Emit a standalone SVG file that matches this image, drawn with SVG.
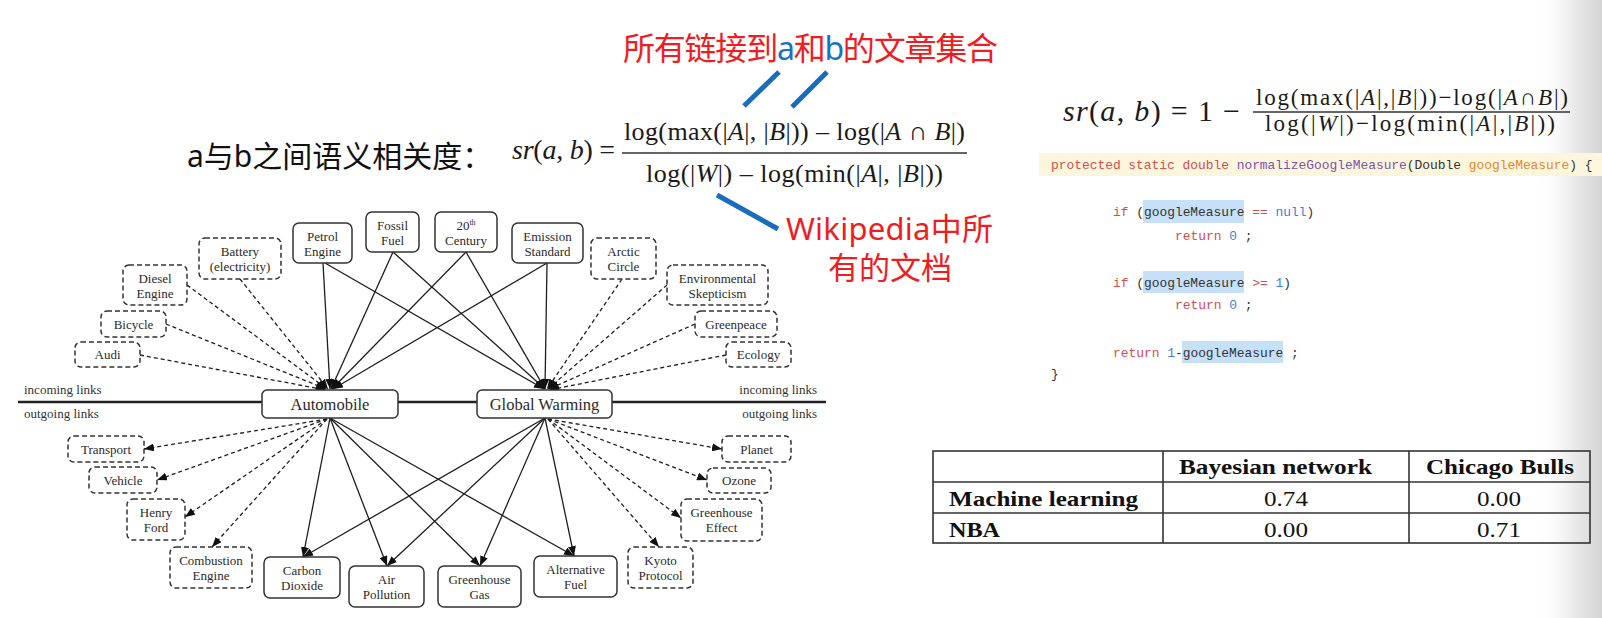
<svg xmlns="http://www.w3.org/2000/svg" width="1602" height="618" viewBox="0 0 1602 618">
  <style>
    .node rect { fill: #fff; stroke: #333; stroke-width: 1.5; }
    .node.dash rect { stroke-dasharray: 5 3; }
    .node text { font-family: "Liberation Serif", serif; font-size: 13px; fill: #2a2a2a; text-anchor: middle; }
    .node.hub text { font-size: 16.5px; }
    .edges line { stroke: #1e1e1e; stroke-width: 1.3; marker-end: url(#ah); }
    .edges line.d { stroke-dasharray: 4 3; }
    .side { font-family: "Liberation Serif", serif; font-size: 13px; fill: #333; }
    .math { font-family: "Liberation Serif", serif; fill: #1a1a1a; }
    .cjk { font-family: "Noto Sans", "Noto Sans CJK SC", sans-serif; }
    .red { fill: #ee1d23; }
    .blue { fill: #1a72c0; }
    .callout { stroke: #1a6dbd; stroke-width: 5; stroke-linecap: butt; }
    .code { font-family: "Liberation Mono", monospace; font-size: 12.9px; fill: #333; }
    .kw { fill: #d64c4f; }
    .fn { fill: #8250b0; }
    .pa { fill: #e3892e; }
    .nu { fill: #3c7fd6; }
    .hl { fill: #c6e0fa; }
    .tbl { fill: none; stroke: #333; stroke-width: 1.6; }
    .th { font-family: "Liberation Serif", serif; font-size: 22px; font-weight: bold; fill: #111; }
    .td { font-family: "Liberation Serif", serif; font-size: 22px; fill: #111; text-anchor: start; }
  </style>
  <defs>
    <marker id="ah" markerUnits="userSpaceOnUse" markerWidth="10" markerHeight="8" refX="10" refY="4" orient="auto">
      <path d="M0,0 L10,4 L0,8 z" fill="#111"/>
    </marker>
    <linearGradient id="edge" x1="0" y1="0" x2="1" y2="0">
      <stop offset="0" stop-color="#ffffff" stop-opacity="0"/>
      <stop offset="0.55" stop-color="#ececec"/>
      <stop offset="1" stop-color="#d4d4d4"/>
    </linearGradient>
  </defs>

  <rect width="1602" height="618" fill="#fff"/>
  <rect x="1535" y="0" width="67" height="618" fill="url(#edge)"/>

  <!-- heading and formula on the left -->
  <text class="cjk" x="187" y="167" font-size="30" fill="#111">a与b之间语义相关度：</text>
  <text class="cjk" x="623" y="60" font-size="32" textLength="375"><tspan class="red">所有链接到</tspan><tspan class="blue">a</tspan><tspan class="red">和</tspan><tspan class="blue">b</tspan><tspan class="red">的文章集合</tspan></text>
  <line class="callout" x1="779" y1="72" x2="744" y2="106"/>
  <line class="callout" x1="827" y1="72" x2="792" y2="107"/>
  <line class="callout" x1="717" y1="195" x2="778" y2="229"/>
  <text class="cjk red" font-size="31"><tspan x="786" y="240" textLength="207">Wikipedia中所</tspan><tspan x="828" y="279" textLength="124">有的文档</tspan></text>

  <text class="math" x="512" y="159" font-size="28" textLength="103"><tspan font-style="italic">sr</tspan>(<tspan font-style="italic">a</tspan>, <tspan font-style="italic">b</tspan>) =</text>
  <text class="math" x="624" y="140" font-size="26" textLength="341">log(max(|<tspan font-style="italic">A</tspan>|, |<tspan font-style="italic">B</tspan>|)) – log(|<tspan font-style="italic">A</tspan> ∩ <tspan font-style="italic">B</tspan>|)</text>
  <line x1="622" y1="153" x2="967" y2="153" stroke="#333" stroke-width="1.6"/>
  <text class="math" x="646" y="182" font-size="26" textLength="297">log(|<tspan font-style="italic">W</tspan>|) – log(min(|<tspan font-style="italic">A</tspan>|, |<tspan font-style="italic">B</tspan>|))</text>

  <!-- formula on the right -->
  <text class="math" x="1063" y="121" font-size="30" textLength="177"><tspan font-style="italic">sr</tspan>(<tspan font-style="italic">a</tspan>, <tspan font-style="italic">b</tspan>) = 1 −</text>
  <text class="math" x="1256" y="105" font-size="23" textLength="312">log(max(|<tspan font-style="italic">A</tspan>|,|<tspan font-style="italic">B</tspan>|))−log(|<tspan font-style="italic">A</tspan>∩<tspan font-style="italic">B</tspan>|)</text>
  <line x1="1253" y1="112" x2="1570" y2="112" stroke="#333" stroke-width="1.4"/>
  <text class="math" x="1265" y="131" font-size="23" textLength="290">log(|<tspan font-style="italic">W</tspan>|)−log(min(|<tspan font-style="italic">A</tspan>|,|<tspan font-style="italic">B</tspan>|))</text>

  <!-- code listing -->
  <rect x="1039" y="153" width="563" height="23" fill="#fcf6dc"/>
  <rect class="hl" x="1143" y="200" width="101" height="23"/>
  <rect class="hl" x="1143" y="271" width="101" height="22"/>
  <rect class="hl" x="1182" y="341" width="101" height="22"/>
  <text class="code" xml:space="preserve" x="1051" y="169"><tspan class="kw">protected static double </tspan><tspan class="fn">normalizeGoogleMeasure</tspan>(Double <tspan class="pa">googleMeasure</tspan>) {</text>
  <text class="code" xml:space="preserve" x="1113" y="216"><tspan class="kw">if</tspan> (googleMeasure <tspan class="kw">==</tspan> <tspan class="nu">null</tspan>)</text>
  <text class="code" xml:space="preserve" x="1175" y="240"><tspan class="kw">return</tspan> <tspan class="nu">0</tspan> ;</text>
  <text class="code" xml:space="preserve" x="1113" y="287"><tspan class="kw">if</tspan> (googleMeasure <tspan class="kw">&gt;=</tspan> <tspan class="nu">1</tspan>)</text>
  <text class="code" xml:space="preserve" x="1175" y="309"><tspan class="kw">return</tspan> <tspan class="nu">0</tspan> ;</text>
  <text class="code" xml:space="preserve" x="1113" y="357"><tspan class="kw">return</tspan> <tspan class="nu">1</tspan>-googleMeasure ;</text>
  <text class="code" x="1051" y="378">}</text>

  <!-- similarity table -->
  <g id="table">
    <rect class="tbl" x="933" y="451" width="657" height="92"/>
    <line class="tbl" x1="933" y1="482" x2="1590" y2="482"/>
    <line class="tbl" x1="933" y1="513" x2="1590" y2="513"/>
    <line class="tbl" x1="1163" y1="451" x2="1163" y2="543"/>
    <line class="tbl" x1="1409" y1="451" x2="1409" y2="543"/>
    <text class="th" x="1179" y="474" textLength="193" lengthAdjust="spacingAndGlyphs">Bayesian network</text>
    <text class="th" x="1426" y="474" textLength="148" lengthAdjust="spacingAndGlyphs">Chicago Bulls</text>
    <text class="th" x="949" y="506" textLength="189" lengthAdjust="spacingAndGlyphs">Machine learning</text>
    <text class="th" x="949" y="537" textLength="51" lengthAdjust="spacingAndGlyphs">NBA</text>
    <text class="td" x="1264" y="506" textLength="44" lengthAdjust="spacingAndGlyphs">0.74</text>
    <text class="td" x="1477" y="506" textLength="44" lengthAdjust="spacingAndGlyphs">0.00</text>
    <text class="td" x="1264" y="537" textLength="44" lengthAdjust="spacingAndGlyphs">0.00</text>
    <text class="td" x="1477" y="537" textLength="44" lengthAdjust="spacingAndGlyphs">0.71</text>
  </g>

  <!-- link graph: divider between incoming and outgoing links -->
  <line x1="18" y1="402" x2="826" y2="402" stroke="#222" stroke-width="2.6"/>
  <text class="side" x="24" y="394">incoming links</text>
  <text class="side" x="24" y="418">outgoing links</text>
  <text class="side" x="817" y="394" text-anchor="end">incoming links</text>
  <text class="side" x="817" y="418" text-anchor="end">outgoing links</text>

  <g id="connectors" class="edges">
    <!-- shared incoming links -->
    <line x1="323" y1="263" x2="330" y2="389"/>
    <line x1="325" y1="263" x2="544" y2="389"/>
    <line x1="393" y1="252" x2="331" y2="389"/>
    <line x1="393" y1="252" x2="545" y2="389"/>
    <line x1="466" y1="252" x2="332" y2="389"/>
    <line x1="466" y1="252" x2="545" y2="389"/>
    <line x1="547" y1="263" x2="333" y2="389"/>
    <line x1="547" y1="263" x2="545" y2="389"/>
    <!-- incoming links of one article only -->
    <line class="d" x1="240" y1="279" x2="328" y2="389"/>
    <line class="d" x1="187" y1="285" x2="327" y2="389"/>
    <line class="d" x1="166" y1="324" x2="326" y2="389"/>
    <line class="d" x1="140" y1="355" x2="326" y2="390"/>
    <line class="d" x1="622" y1="279" x2="547" y2="389"/>
    <line class="d" x1="667" y1="285" x2="548" y2="389"/>
    <line class="d" x1="695" y1="324" x2="549" y2="389"/>
    <line class="d" x1="726" y1="355" x2="549" y2="390"/>
    <!-- shared outgoing links -->
    <line x1="330" y1="418" x2="303" y2="557"/>
    <line x1="330" y1="418" x2="387" y2="566"/>
    <line x1="330" y1="418" x2="480" y2="566"/>
    <line x1="330" y1="418" x2="574" y2="556"/>
    <line x1="545" y1="418" x2="303" y2="557"/>
    <line x1="545" y1="418" x2="387" y2="566"/>
    <line x1="545" y1="418" x2="480" y2="566"/>
    <line x1="545" y1="418" x2="574" y2="556"/>
    <!-- outgoing links of one article only -->
    <line class="d" x1="327" y1="419" x2="144" y2="449"/>
    <line class="d" x1="327" y1="419" x2="157" y2="480"/>
    <line class="d" x1="327" y1="419" x2="185" y2="517"/>
    <line class="d" x1="327" y1="419" x2="212" y2="547"/>
    <line class="d" x1="548" y1="419" x2="722" y2="449"/>
    <line class="d" x1="548" y1="419" x2="707" y2="480"/>
    <line class="d" x1="548" y1="419" x2="681" y2="518"/>
    <line class="d" x1="548" y1="419" x2="659" y2="547"/>
  </g>

  <!-- incoming nodes -->
  <g id="petrol-engine" class="node"><rect x="293" y="223" width="59" height="40" rx="6"/><text x="322.5" y="240.5">Petrol</text><text x="322.5" y="256">Engine</text></g>
  <g id="fossil-fuel" class="node"><rect x="366" y="212" width="53" height="40" rx="6"/><text x="392.5" y="229.5">Fossil</text><text x="392.5" y="245">Fuel</text></g>
  <g id="century" class="node"><rect x="435" y="212" width="62" height="40" rx="6"/><text x="466" y="229.5">20<tspan font-size="8" dy="-5">th</tspan></text><text x="466" y="245">Century</text></g>
  <g id="emission-standard" class="node"><rect x="512" y="223" width="71" height="40" rx="6"/><text x="547.5" y="240.5">Emission</text><text x="547.5" y="256">Standard</text></g>
  <g id="battery" class="node dash"><rect x="199" y="238" width="82" height="41" rx="6"/><text x="240" y="255.5">Battery</text><text x="240" y="271">(electricity)</text></g>
  <g id="diesel-engine" class="node dash"><rect x="123" y="265" width="64" height="40" rx="6"/><text x="155" y="282.5">Diesel</text><text x="155" y="298">Engine</text></g>
  <g id="bicycle" class="node dash"><rect x="101" y="311" width="65" height="26" rx="6"/><text x="133.5" y="328.5">Bicycle</text></g>
  <g id="audi" class="node dash"><rect x="75" y="342" width="65" height="25" rx="6"/><text x="107.5" y="359">Audi</text></g>
  <g id="arctic-circle" class="node dash"><rect x="591" y="238" width="65" height="41" rx="6"/><text x="623.5" y="255.5">Arctic</text><text x="623.5" y="271">Circle</text></g>
  <g id="environmental-skepticism" class="node dash"><rect x="667" y="265" width="101" height="40" rx="6"/><text x="717.5" y="282.5">Environmental</text><text x="717.5" y="298">Skepticism</text></g>
  <g id="greenpeace" class="node dash"><rect x="695" y="311" width="82" height="26" rx="6"/><text x="736" y="328.5">Greenpeace</text></g>
  <g id="ecology" class="node dash"><rect x="726" y="342" width="65" height="25" rx="6"/><text x="758.5" y="359">Ecology</text></g>

  <!-- the two articles -->
  <g id="automobile" class="node hub"><rect x="262" y="390" width="136" height="28" rx="5"/><text x="330" y="410">Automobile</text></g>
  <g id="global-warming" class="node hub"><rect x="477" y="390" width="135" height="28" rx="5"/><text x="544.5" y="410">Global Warming</text></g>

  <!-- outgoing nodes -->
  <g id="transport" class="node dash"><rect x="68" y="436" width="76" height="26" rx="6"/><text x="106" y="453.5">Transport</text></g>
  <g id="vehicle" class="node dash"><rect x="89" y="467" width="68" height="26" rx="6"/><text x="123" y="484.5">Vehicle</text></g>
  <g id="henry-ford" class="node dash"><rect x="127" y="499" width="58" height="41" rx="6"/><text x="156" y="516.5">Henry</text><text x="156" y="532">Ford</text></g>
  <g id="combustion-engine" class="node dash"><rect x="170" y="547" width="82" height="41" rx="6"/><text x="211" y="564.5">Combustion</text><text x="211" y="580">Engine</text></g>
  <g id="carbon-dioxide" class="node"><rect x="264" y="557" width="76" height="41" rx="6"/><text x="302" y="574.5">Carbon</text><text x="302" y="590">Dioxide</text></g>
  <g id="air-pollution" class="node"><rect x="349" y="566" width="75" height="41" rx="6"/><text x="386.5" y="583.5">Air</text><text x="386.5" y="599">Pollution</text></g>
  <g id="greenhouse-gas" class="node"><rect x="438" y="566" width="83" height="41" rx="6"/><text x="479.5" y="583.5">Greenhouse</text><text x="479.5" y="599">Gas</text></g>
  <g id="alternative-fuel" class="node"><rect x="534" y="556" width="83" height="41" rx="6"/><text x="575.5" y="573.5">Alternative</text><text x="575.5" y="589">Fuel</text></g>
  <g id="kyoto-protocol" class="node dash"><rect x="628" y="547" width="65" height="41" rx="6"/><text x="660.5" y="564.5">Kyoto</text><text x="660.5" y="580">Protocol</text></g>
  <g id="greenhouse-effect" class="node dash"><rect x="681" y="499" width="81" height="42" rx="6"/><text x="721.5" y="516.5">Greenhouse</text><text x="721.5" y="532">Effect</text></g>
  <g id="ozone" class="node dash"><rect x="707" y="468" width="64" height="25" rx="6"/><text x="739" y="485">Ozone</text></g>
  <g id="planet" class="node dash"><rect x="722" y="436" width="69" height="26" rx="6"/><text x="756.5" y="453.5">Planet</text></g>
</svg>
